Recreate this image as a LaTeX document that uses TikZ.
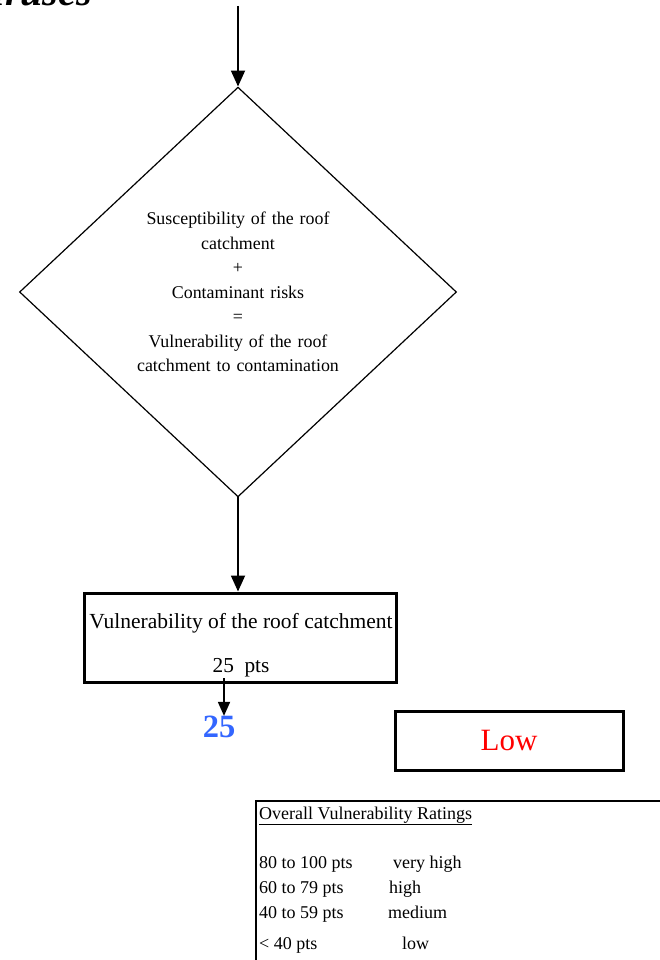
\documentclass[tikz,border=0pt]{standalone}
\usepackage{fontspec}
\setmainfont{Liberation Serif}
\usetikzlibrary{shapes.geometric,arrows.meta}

\definecolor{scoreblue}{RGB}{51,102,255}

\tikzset{
  flow/.style={line width=1.8pt,-{Triangle[length=16pt,width=14pt]}},
  smallflow/.style={line width=1.8pt,-{Triangle[length=14pt,width=12pt]}},
  decision/.style={draw,shape=diamond,line width=1.2pt,inner sep=0pt,
    minimum width=437pt,minimum height=403pt,text width=250pt,align=center,
    font=\fontsize{17.9}{24.5}\selectfont},
  result/.style={draw,line width=3pt,inner sep=0pt},
  plain/.style={inner sep=0pt},
  ratingtext/.style={inner sep=0pt,anchor=base west,font=\fontsize{18}{20}\selectfont},
}

\begin{document}
\begin{tikzpicture}[x=1pt,y=-1pt]
\useasboundingbox (0,0) rectangle (660,960);
\clip (0,0) rectangle (660,960);

% heading, mostly above the page edge
\node[plain,anchor=base east,font=\fontsize{40}{40}\selectfont\bfseries\itshape] (heading) at (92,5.5) {Viruses};

% incoming flow
\coordinate (entry) at (238,6);
\node[decision] (combine) at (238,292)
  {Susceptibility of the roof\\catchment\\+\\Contaminant risks\\=\\Vulnerability of the roof\\catchment to contamination};
\draw[flow] (entry) -- (combine.north);

% vulnerability result box
\node[result,minimum width=312pt,minimum height=89pt] (vbox) at (240,637.5) {};
\node[plain,font=\fontsize{21.5}{22}\selectfont] (vtitle) at (241,623) {Vulnerability of the roof catchment};
\node[plain,font=\fontsize{21.3}{22}\selectfont] (vpts) at (241,668) {25~~pts};
\draw[flow] (combine.south) -- (combine.south |- vbox.north);

% score value
\node[plain,text=scoreblue,font=\fontsize{32.5}{33}\selectfont\bfseries] (score) at (219,727) {25};
\coordinate (scoretop) at (224,678);
\draw[smallflow] (scoretop) -- (scoretop |- score.north);

% rating label
\node[result,minimum width=228pt,minimum height=59pt,text=red,
      font=\fontsize{31}{32}\selectfont] (rating) at (509,740.5) {Low};

% overall rating table
\node[draw,line width=1.6pt,anchor=north west,minimum width=500pt,minimum height=250pt] (ratings) at (255,800) {};
\node[ratingtext] (rhead) at (259,819) {\underline{Overall Vulnerability Ratings}};
\node[ratingtext] (r1a) at (259,868) {80 to 100 pts};
\node[ratingtext] (r1b) at (393,868) {very high};
\node[ratingtext] (r2a) at (259,893) {60 to 79 pts};
\node[ratingtext] (r2b) at (389,893) {high};
\node[ratingtext] (r3a) at (259,918) {40 to 59 pts};
\node[ratingtext] (r3b) at (388,918) {medium};
\node[ratingtext] (r4a) at (259,949) {< 40 pts};
\node[ratingtext] (r4b) at (402,949) {low};
\end{tikzpicture}
\end{document}
